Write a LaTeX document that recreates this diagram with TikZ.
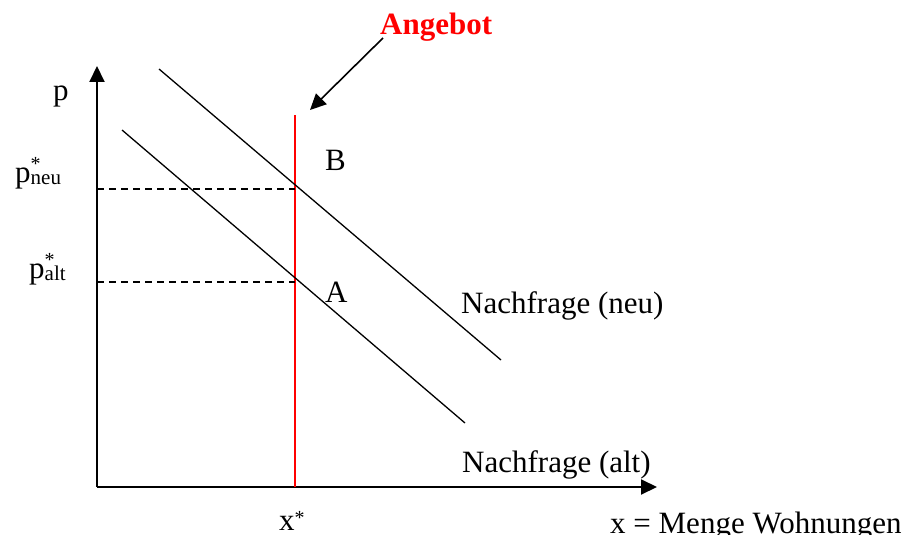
\documentclass[tikz,border=0pt]{standalone}
\usepackage{fontspec}
\setmainfont{Liberation Serif}
\usetikzlibrary{arrows.meta}
\newcommand\starsub[1]{\rlap{\raisebox{12pt}{\fontsize{20}{20}\selectfont *}}\raisebox{-2.5pt}{\fontsize{21}{21}\selectfont #1}}
\begin{document}
\begin{tikzpicture}[x=1pt,y=-1pt,
  lbl/.style={inner sep=0pt,anchor=base west,font=\fontsize{31}{36}\selectfont},
  axis/.style={line width=2pt,-{Triangle[length=16pt,width=15pt]}},
  demand/.style={line width=1.3pt},
  supply/.style={line width=1.3pt,red},
  guide/.style={line width=1.3pt,dash pattern=on 7pt off 5pt},
  pointer/.style={line width=1.6pt,-{Triangle[length=16pt,width=15pt]}}]
\useasboundingbox (0,0) rectangle (916,535);
% axes
\coordinate (O) at (97,487);
\coordinate (ytip) at (97,66);
\coordinate (xtip) at (657,487);
\draw[axis] (O) -- (ytip);
\draw[axis] (O) -- (xtip);
% supply
\coordinate (s1) at (295,115);
\coordinate (s2) at (295,487);
\draw[supply] (s2) -- (s1);
% demand
\coordinate (n1) at (159,69);
\coordinate (n2) at (501,360);
\coordinate (a1) at (122,130);
\coordinate (a2) at (465,423);
\draw[demand] (n1) -- (n2);
\draw[demand] (a1) -- (a2);
% guides
\coordinate (pn) at (97,189);
\coordinate (Bpt) at (295,189);
\coordinate (pa) at (97,282);
\coordinate (Apt) at (295,282);
\draw[guide] (pn) -- (Bpt);
\draw[guide] (pa) -- (Apt);
% labels
\node[lbl] (plab) at (53,100) {p};
\node[lbl] (pneu) at (15,182) {p\starsub{neu}};
\node[lbl] (palt) at (29,278) {p\starsub{alt}};
\node[lbl] (B) at (325,170) {B};
\node[lbl] (A) at (325,302) {A};
\node[lbl] (nneu) at (461,313) {Nachfrage (neu)};
\node[lbl] (nalt) at (462,472) {Nachfrage (alt)};
\node[lbl] (xstar) at (279,530) {x\raisebox{6pt}{\fontsize{20}{20}\selectfont *}};
\node[lbl] (xlab) at (610,533) {x = Menge Wohnungen};
\node[lbl,text=red,font=\fontsize{31}{36}\selectfont\bfseries] (ang) at (380,35) {Angebot};
% arrow
\coordinate (arrStart) at (383,38);
\coordinate (arrEnd) at (310,110);
\draw[pointer] (arrStart) -- (arrEnd);
\end{tikzpicture}
\end{document}
